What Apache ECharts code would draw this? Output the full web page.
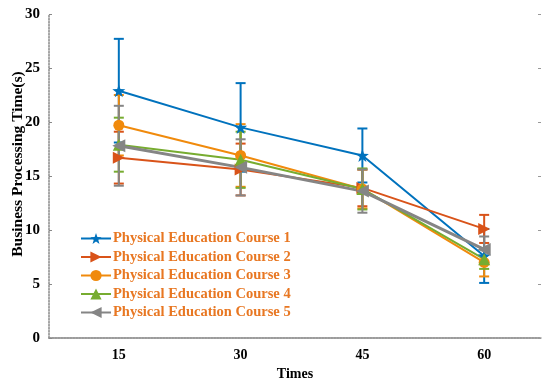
<!DOCTYPE html>
<html><head><meta charset="utf-8">
<script src="https://cdn.jsdelivr.net/npm/echarts@6/dist/echarts.min.js"></script>
<style>html,body{margin:0;padding:0;background:#fff}#c{width:544px;height:380px}</style>
</head><body><div id="c"></div>
<script>
const times = [15, 30, 45, 60];
const yTicks = [0, 5, 10, 15, 20, 25, 30];
const names = ['Physical Education Course 1','Physical Education Course 2','Physical Education Course 3','Physical Education Course 4','Physical Education Course 5'];
const course1 = [22.9, 19.5, 16.9, 7.6];
const course2 = [16.7, 15.6, 13.9, 10.1];
const course3 = [19.7, 16.9, 13.8, 7.0];
const course4 = [17.9, 16.5, 13.8, 7.3];
const course5 = [17.8, 15.8, 13.6, 8.2];
const err1 = [4.8, 4.1, 2.5, 2.5];
const err2 = [2.4, 2.4, 1.7, 1.3];
const err3 = [2.8, 2.9, 1.8, 1.3];
const err4 = [2.5, 2.6, 1.9, 0.9];
const err5 = [3.7, 2.6, 2.0, 1.2];

const values = [course1, course2, course3, course4, course5];
const errs = [err1, err2, err3, err4, err5];
const colors = ['#0072BD', '#D95319', '#F08A0C', '#77AC30', '#858585'];
const symbols = ['path://M0,-10L2.35,-3.24L9.51,-3.09L3.8,1.24L5.88,8.09L0,4L-5.88,8.09L-3.8,1.24L-9.51,-3.09L-2.35,-3.24Z', 'triangle', 'circle', 'triangle', 'triangle'];
const rotates = [0, -90, 0, 0, 90];
const sizes = [13, 12, 11, 12, 13];
const widths = [2, 2, 2, 2, 3];

const font = 'Liberation Serif, Times New Roman, serif';
const series = [];
values.forEach((vals, i) => {
  series.push({
    type: 'custom', name: names[i] + ' err', z: 3,
    data: vals.map((v, k) => [times[k], v - errs[i][k], v + errs[i][k]]),
    renderItem: function (params, api) {
      const x = api.value(0);
      const lo = api.coord([x, api.value(1)]);
      const hi = api.coord([x, api.value(2)]);
      const w = 5;
      const st = { stroke: colors[i], lineWidth: 2 };
      return { type: 'group', children: [
        { type: 'line', shape: { x1: lo[0], y1: lo[1], x2: hi[0], y2: hi[1] }, style: st },
        { type: 'line', shape: { x1: lo[0] - w, y1: lo[1], x2: lo[0] + w, y2: lo[1] }, style: st },
        { type: 'line', shape: { x1: hi[0] - w, y1: hi[1], x2: hi[0] + w, y2: hi[1] }, style: st }
      ]};
    },
    silent: true
  });
});
values.forEach((vals, i) => {
  series.push({
    type: 'line', name: names[i], z: 4,
    data: vals.map((v, k) => [times[k], v]),
    symbol: symbols[i], symbolRotate: rotates[i], symbolSize: sizes[i],
    showAllSymbol: true,
    lineStyle: { color: colors[i], width: widths[i] },
    itemStyle: { color: colors[i] },
    animation: false
  });
});

const chart = echarts.init(document.getElementById('c'));
chart.setOption({
  animation: false,
  grid: { left: 49, right: 3, top: 14, bottom: 42, outerBoundsMode: 'none', containLabel: false },
  legend: {
    data: names, orient: 'vertical', left: 75, top: 226, itemGap: 3.5,
    itemWidth: 30, itemHeight: 14,
    textStyle: { color: '#E87722', fontFamily: font, fontWeight: 'bold', fontSize: 14.5, padding: [0, 0, 0, -3] }
  },
  xAxis: [{
    type: 'value', min: 6.4, max: 67,
    name: 'Times', nameLocation: 'middle', nameGap: 26,
    nameTextStyle: { fontFamily: font, fontWeight: 'bold', fontSize: 14, color: '#000' },
    axisLine: { show: true, lineStyle: { color: '#888', type: 'dotted', width: 1.5 } },
    axisTick: { show: false },
    splitLine: { show: false },
    axisLabel: { customValues: times, fontFamily: font, fontWeight: 'bold', fontSize: 14, color: '#000', margin: 10 }
  }, {
    type: 'value', min: 6.4, max: 67, position: 'top',
    axisLine: { show: true, lineStyle: { color: '#999', width: 1.5 } },
    axisTick: { show: false }, axisLabel: { show: false }, splitLine: { show: false }
  }],
  yAxis: [{
    type: 'value', min: 0, max: 30, interval: 5,
    name: 'Business Processing Time(s)', nameLocation: 'middle', nameGap: 23, nameMoveOverlap: false,
    nameTextStyle: { fontFamily: font, fontWeight: 'bold', fontSize: 15.5, color: '#000', padding: [0, 0, 0, 24] },
    axisLine: { show: true, lineStyle: { color: '#888', type: 'dotted', width: 1.5 } },
    axisTick: { show: true, inside: true, length: 3, lineStyle: { color: '#888' } },
    splitLine: { show: false },
    axisLabel: { customValues: yTicks, fontFamily: font, fontWeight: 'bold', fontSize: 15, color: '#000', margin: 9 }
  }, {
    type: 'value', min: 0, max: 30, interval: 5, position: 'right',
    axisLine: { show: false },
    axisTick: { show: true, inside: true, length: 3, lineStyle: { color: '#999' } },
    axisLabel: { show: false }, splitLine: { show: false }
  }],
  series: series
});
</script></body></html>
